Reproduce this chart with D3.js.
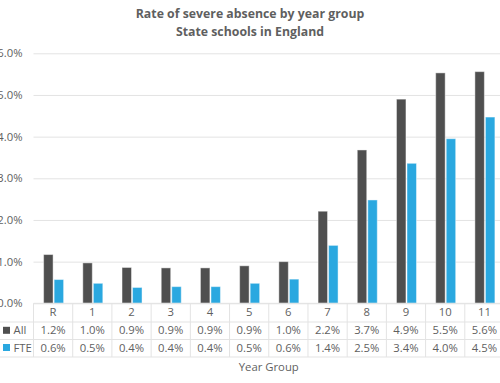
<!DOCTYPE html>
<html><head><meta charset="utf-8">
<script src="https://cdn.jsdelivr.net/npm/d3@7"></script>
<style>
html,body{margin:0;padding:0;background:#fff;}
svg{display:block;font-family:"Open Sans",Lato,sans-serif;}
</style></head>
<body>
<svg id="c" width="500" height="383"></svg>
<script>
const categories = ["R","1","2","3","4","5","6","7","8","9","10","11"];
const seriesNames = ["All","FTE"];
const allValues = [1.17,0.97,0.86,0.85,0.85,0.90,1.00,2.21,3.68,4.90,5.53,5.56];
const fteValues = [0.57,0.48,0.38,0.40,0.40,0.48,0.58,1.39,2.48,3.36,3.95,4.47];
const allLabels = ["1.2%","1.0%","0.9%","0.9%","0.9%","0.9%","1.0%","2.2%","3.7%","4.9%","5.5%","5.6%"];
const fteLabels = ["0.6%","0.5%","0.4%","0.4%","0.4%","0.5%","0.6%","1.4%","2.5%","3.4%","4.0%","4.5%"];
const yTicks = [0,1,2,3,4,5,6];
const titleLines = ["Rate of severe absence by year group","State schools in England"];
const xTitle = "Year Group";

const colors = {All:"#4f4f4f", FTE:"#2aa8e0"};
const textColor = "#5f5f5f";
const gridColor = "#e3e3e3";
const fs = 11.3;

const svg = d3.select("#c");
const pLeft = 33.5, pRight = 504, pTop = 53.3, pBottom = 303.3;

const x = d3.scaleBand().domain(categories).range([pLeft, pRight]);
const xs = d3.scaleBand().domain(seriesNames).range([-9.5, 10.5]).paddingInner(0.1);
const y = d3.scaleLinear().domain([0,6]).range([pBottom, pTop]);

// title
svg.append("g").selectAll("text").data(titleLines).join("text")
  .attr("x", 250).attr("y", (d,i)=>18 + i*17.5)
  .attr("text-anchor","middle").attr("font-size",12.3).attr("font-weight",700)
  .attr("fill", textColor).text(d=>d);

// gridlines + y labels
const yAxis = d3.axisLeft(y).tickValues(yTicks).tickSize(-(pRight-pLeft)).tickFormat(d=>d3.format(".1f")(d)+"%");
const yg = svg.append("g").attr("transform",`translate(${pLeft},0)`).call(yAxis);
yg.select(".domain").remove();
yg.selectAll(".tick line").attr("stroke", gridColor).attr("stroke-width",1);
yg.selectAll(".tick text").attr("x",-11).attr("fill",textColor).attr("font-size",fs).attr("font-family","'Open Sans',sans-serif");

// bars
const data = categories.map((c,i)=>({c, All: allValues[i], FTE: fteValues[i]}));
const groups = svg.append("g").selectAll("g").data(data).join("g")
  .attr("transform", d=>`translate(${x(d.c)+x.bandwidth()/2},0)`);
groups.selectAll("rect").data(d=>seriesNames.map(s=>({s, v:d[s]}))).join("rect")
  .attr("x", d=>xs(d.s)).attr("width", xs.bandwidth())
  .attr("y", d=>y(d.v)).attr("height", d=>y(0)-y(d.v))
  .attr("fill", d=>colors[d.s])
  .attr("stroke","rgba(255,255,255,0.45)").attr("stroke-width",1);

// table
const rowY = [303.3, 322, 339.5, 357];
const tg = svg.append("g");
tg.append("line").attr("x1",pLeft).attr("x2",pRight).attr("y1",rowY[0]).attr("y2",rowY[0]).attr("stroke",gridColor);
[rowY[1],rowY[2],rowY[3]].forEach(yy=>{
  tg.append("line").attr("x1",0).attr("x2",pRight).attr("y1",yy).attr("y2",yy).attr("stroke",gridColor);
});
const edges = categories.map(c=>x(c)).concat([pRight]);
tg.selectAll("line.v").data(edges).join("line").attr("class","v")
  .attr("x1",d=>d).attr("x2",d=>d).attr("y1",rowY[0]).attr("y2",rowY[3]).attr("stroke",gridColor);
tg.selectAll("text.h").data(categories).join("text").attr("class","h")
  .attr("x",d=>x(d)+x.bandwidth()/2).attr("y",316.3).attr("text-anchor","middle")
  .attr("font-size",fs).attr("fill",textColor).text(d=>d);
const rows = [{name:"All", labels:allLabels, yy:334.3},{name:"FTE", labels:fteLabels, yy:351.5}];
rows.forEach(r=>{
  tg.append("g").selectAll("text").data(categories).join("text")
    .attr("x",d=>x(d)+x.bandwidth()/2).attr("y",r.yy).attr("text-anchor","middle")
    .attr("font-size",fs).attr("fill",textColor).text((d,i)=>r.labels[i]);
  tg.append("rect").attr("x",3).attr("y",r.yy-7.5).attr("width",7).attr("height",7).attr("fill",colors[r.name]);
  tg.append("text").attr("x",13.5).attr("y",r.yy).attr("font-size",fs).attr("fill",textColor).text(r.name);
});

svg.append("text").attr("x",(pLeft+pRight)/2).attr("y",371).attr("text-anchor","middle")
  .attr("font-size",fs).attr("fill",textColor).text(xTitle);
</script>
</body></html>
